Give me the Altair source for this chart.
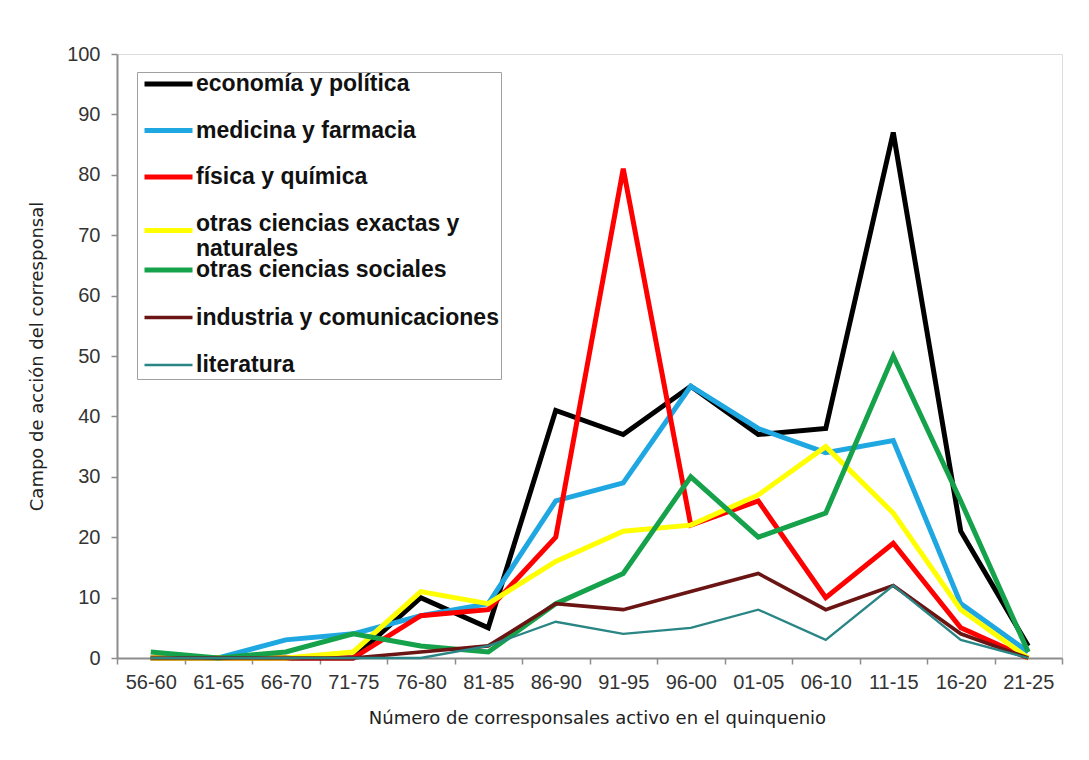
import altair as alt
import pandas as pd

periods = ["56-60", "61-65", "66-70", "71-75", "76-80", "81-85", "86-90",
           "91-95", "96-00", "01-05", "06-10", "11-15", "16-20", "21-25"]

series_names = ["economía y política", "medicina y farmacia", "física y química",
                "otras ciencias exactas y naturales", "otras ciencias sociales",
                "industria y comunicaciones", "literatura"]

series_colors = ["#000000", "#1ea7e1", "#ff0000", "#ffff00", "#15a24a", "#6b1414", "#2a8585"]
series_widths = [5, 5, 5, 5, 5, 2.3, 2.3]

economia = [0, 0, 0, 0, 10, 5, 41, 37, 45, 37, 38, 87, 21, 2]
medicina = [0, 0, 3, 4, 7, 9, 26, 29, 45, 38, 34, 36, 9, 1]
fisica = [0, 0, 0, 0, 7, 8, 20, 81, 22, 26, 10, 19, 5, 0]
exactas = [0, 0, 0, 1, 11, 9, 16, 21, 22, 27, 35, 24, 8, 0]
sociales = [1, 0, 1, 4, 2, 1, 9, 14, 30, 20, 24, 50, 26, 1]
industria = [0, 0, 0, 0, 1, 2, 9, 8, 11, 14, 8, 12, 4, 0]
literatura = [0, 0, 0, 0, 0, 2, 6, 4, 5, 8, 3, 12, 3, 0]

y_ticks = [0, 10, 20, 30, 40, 50, 60, 70, 80, 90, 100]

all_values = [economia, medicina, fisica, exactas, sociales, industria, literatura]
rows = []
for name, vals in zip(series_names, all_values):
    for p, v in zip(periods, vals):
        rows.append({"periodo": p, "serie": name, "valor": v})
df = pd.DataFrame(rows)

# the legend is split in two groups so that the wrapped label does not push the rest down;
# the lower group draws the common white box behind both
group_a = series_names[:4]
group_b = series_names[4:]
colors_a = series_colors[:4]
colors_b = series_colors[4:]
widths_b = series_widths[4:]

wrapped = "otras ciencias exactas y naturales"
label_expr_a = (
    f"datum.label == '{wrapped}' ? ['otras ciencias exactas y', 'naturales'] : datum.label"
)
baseline_expr_a = f"datum.label == '{wrapped}' ? 'alphabetic' : 'middle'"
width_expr_b = "datum.label == 'otras ciencias sociales' ? 5 : 2.3"

common_legend = dict(
    orient="none",
    legendX=20,
    padding=2,
    symbolType="stroke",
    symbolSize=2304,
    symbolOffset=3,
    labelOffset=1,
    labelFont="Liberation Sans",
    labelFontSize=23,
    labelFontWeight="bold",
    labelColor="#111111",
    labelLimit=500,
    clipHeight=22,
)

legend_a = alt.Legend(
    legendY=17,
    title=None,
    zindex=2,
    rowPadding=23.5,
    symbolStrokeWidth=5,
    labelBaseline=alt.ExprRef(baseline_expr_a),
    labelExpr=label_expr_a,
    **common_legend,
)

legend_b = alt.Legend(
    legendY=18,
    zindex=1,
    rowPadding=24.5,
    fillColor="white",
    strokeColor="#a0a0a0",
    title="\u200b",
    titleOpacity=0,
    titleOrient="top",
    titleAnchor="start",
    titleFontSize=185,
    titlePadding=0,
    symbolStrokeWidth=alt.ExprRef(width_expr_b),
    **common_legend,
)

x_enc = alt.X(
    "periodo:N",
    sort=periods,
    scale=alt.Scale(type="band", domain=periods, paddingInner=0, paddingOuter=0),
    axis=alt.Axis(
        title="Número de corresponsales activo en el quinquenio",
        labelAngle=0,
        tickBand="extent",
        tickSize=6,
        labelPadding=8,
        labelFont="Liberation Sans",
        labelFontSize=20,
        labelColor="#333333",
        titleFont="DejaVu Sans",
        titleFontSize=18,
        titleFontWeight="normal",
        titleColor="#222222",
        titleX=480,
        titleY=60,
        titleBaseline="middle",
        domainColor="#8c8c8c",
        domainWidth=2,
        tickColor="#8c8c8c",
        tickWidth=1.5,
        grid=False,
    ),
)

y_enc = alt.Y(
    "valor:Q",
    scale=alt.Scale(domain=[0, 100], nice=False),
    axis=alt.Axis(
        title="Campo de acción del corresponsal",
        values=y_ticks,
        tickSize=6,
        labelPadding=11,
        labelFont="Liberation Sans",
        labelFontSize=20,
        labelColor="#333333",
        titleFont="DejaVu Sans",
        titleFontSize=18,
        titleFontWeight="normal",
        titleColor="#222222",
        titleX=-80,
        titleBaseline="middle",
        domainColor="#8c8c8c",
        domainWidth=2,
        tickColor="#8c8c8c",
        tickWidth=1.5,
        grid=False,
    ),
)

base = alt.Chart(df)

lines_a = base.transform_filter(
    alt.FieldOneOfPredicate(field="serie", oneOf=group_a)
).mark_line(strokeWidth=5, strokeJoin="miter").encode(
    x=x_enc,
    y=y_enc,
    color=alt.Color("serie:N", sort=group_a,
                    scale=alt.Scale(domain=group_a, range=colors_a),
                    legend=legend_a),
)

lines_b = base.transform_filter(
    alt.FieldOneOfPredicate(field="serie", oneOf=group_b)
).mark_line(strokeJoin="miter").encode(
    x=x_enc,
    y=y_enc,
    color=alt.Color("serie:N", sort=group_b,
                    scale=alt.Scale(domain=group_b, range=colors_b),
                    legend=legend_b),
    strokeWidth=alt.StrokeWidth("serie:N", sort=group_b,
                                scale=alt.Scale(domain=group_b, range=widths_b),
                                legend=None),
)

chart = alt.layer(lines_a, lines_b).resolve_scale(
    color="independent", strokeWidth="independent"
).resolve_legend(
    color="independent"
).properties(
    width=945,
    height=604,
    autosize=alt.AutoSizeParams(type="none"),
    padding={"left": 109, "top": 46, "right": 19, "bottom": 90},
).configure_view(
    fill="#d4d4d4",
    stroke="#a8a8a8",
    strokeWidth=2,
).configure(background="white")

chart.save("out.html", embed_options={"renderer": "svg", "actions": False})
